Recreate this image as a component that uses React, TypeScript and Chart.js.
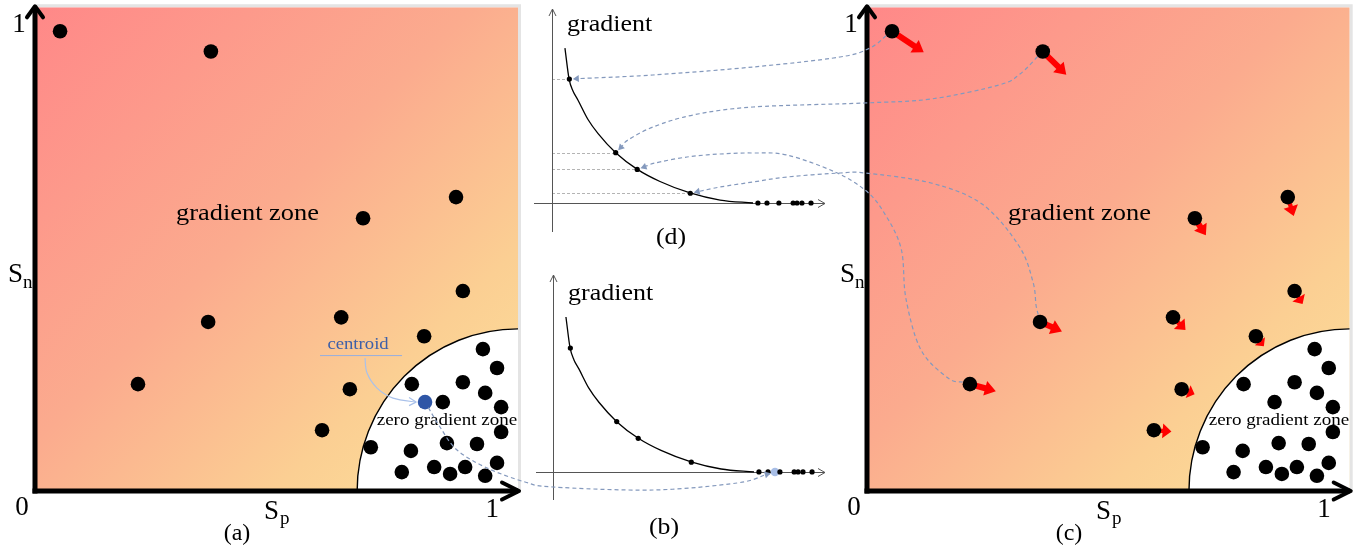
import React, { useEffect, useRef } from "react";
import { Chart, registerables } from "chart.js";
Chart.register(...registerables);

// ---------- panels (a) and (c): similarity space ----------
const gradSp = [0.055, 0.386, 0.72, 0.924, 0.939, 0.38, 0.672, 0.854, 0.226, 0.691, 0.63];
const gradSn = [0.998, 0.954, 0.592, 0.638, 0.434, 0.367, 0.377, 0.336, 0.232, 0.221, 0.132];
const zeroSp = [0.983, 1.014, 0.827, 0.939, 0.988, 1.023, 0.895, 1.023, 0.737, 0.825, 0.904, 0.97, 0.805, 0.876, 0.911, 0.944, 0.988, 1.014];
const zeroSn = [0.308, 0.267, 0.232, 0.236, 0.213, 0.182, 0.193, 0.128, 0.095, 0.087, 0.104, 0.102, 0.041, 0.052, 0.037, 0.052, 0.033, 0.061];
const centroidSp = [0.856];
const centroidSn = [0.193];
// gradient step (arrows in panel c), same order as gradSp/gradSn
const moveSp = [0.0696, 0.0516, 0.0241, 0.0131, 0.0175, 0.0481, 0.0274, 0.0175, 0.0569, 0.0284, 0.0385];
const moveSn = [-0.0456, -0.0503, -0.0369, -0.0412, -0.0282, -0.0206, -0.0275, -0.0217, -0.0152, -0.0108, -0.003];
const zoneCenter = [1.06, 0];
const zoneRadius = [0.353, 0.352];
const tickZero = "0";
const tickOne = "1";

// ---------- panels (d) and (b): gradient curve ----------
const curveX = [0.05, 0.066, 0.081, 0.1, 0.139, 0.178, 0.247, 0.328, 0.417, 0.533, 0.649, 0.776];
const curveY = [1.0, 0.8, 0.723, 0.665, 0.539, 0.448, 0.323, 0.219, 0.139, 0.065, 0.019, 0.0];
const markX = [0.067, 0.246, 0.329, 0.534];
const markY = [0.8, 0.325, 0.217, 0.063];
const restX = [0.795, 0.83, 0.876, 0.931, 0.946, 0.965, 1.0];
const centroidGradX = [0.857];

// connectors: (c) gradient point index -> (d) mark index, plus decorative path waypoints (page px)
const linkFrom = [0, 1, 8, 5];
const linkTo = [0, 1, 2, 3];
const linkVia: number[][][] = [
  [[870, 48], [840, 57], [753, 67], [653, 75]],
  [[1020, 74], [999, 85], [931, 99], [864, 103], [753, 107], [693, 115], [653, 127], [628, 140]],
  [[948, 378], [921, 350], [906, 299], [901, 248], [883, 211], [865, 190], [835, 172], [787, 155], [753, 153], [720, 154], [687, 157], [655, 163]],
  [[1036, 305], [1033, 282], [1019, 246], [982, 204], [931, 183], [865, 173], [840, 173], [787, 177], [753, 182], [720, 187]],
];
const centroidVia: number[][] = [[440, 427], [457, 450], [487, 468], [525, 482], [553, 487], [653, 490], [737, 483]];

const FONT = '"Liberation Serif", "Times New Roman", Times, serif';
const LINK = "#8499bd";

function txt(ctx: any, s: string, x: number, y: number, size: number, align = "left", base = "alphabetic", sx = 1, color = "#000") {
  ctx.save();
  ctx.font = `${size}px ${FONT}`;
  ctx.fillStyle = color;
  ctx.textAlign = align;
  ctx.textBaseline = base;
  ctx.translate(x, y);
  ctx.scale(sx, 1);
  ctx.fillText(s, 0, 0);
  ctx.restore();
}

function spline(ctx: any, pts: number[][]) {
  ctx.moveTo(pts[0][0], pts[0][1]);
  for (let i = 0; i < pts.length - 1; i++) {
    const p0 = pts[i - 1] || pts[i];
    const p1 = pts[i];
    const p2 = pts[i + 1];
    const p3 = pts[i + 2] || p2;
    ctx.bezierCurveTo(
      p1[0] + (p2[0] - p0[0]) / 6, p1[1] + (p2[1] - p0[1]) / 6,
      p2[0] - (p3[0] - p1[0]) / 6, p2[1] - (p3[1] - p1[1]) / 6,
      p2[0], p2[1]
    );
  }
}

function redArrow(ctx: any, x0: number, y0: number, x1: number, y1: number) {
  const dx = x1 - x0, dy = y1 - y0;
  const len = Math.hypot(dx, dy);
  const ux = dx / len, uy = dy / len, nx = -uy, ny = ux;
  const head = Math.min(11, len * 0.5);
  const hw = Math.min(7.5, len * 0.35 + 2);
  const sw = len > 20 ? 3 : 2.2;
  const bx = x1 - ux * head, by = y1 - uy * head;
  ctx.beginPath();
  ctx.moveTo(x0 + nx * sw, y0 + ny * sw);
  ctx.lineTo(bx + nx * sw, by + ny * sw);
  ctx.lineTo(bx + nx * hw, by + ny * hw);
  ctx.lineTo(x1, y1);
  ctx.lineTo(bx - nx * hw, by - ny * hw);
  ctx.lineTo(bx - nx * sw, by - ny * sw);
  ctx.lineTo(x0 - nx * sw, y0 - ny * sw);
  ctx.closePath();
  ctx.fillStyle = "#ff0000";
  ctx.fill();
}

function zonePlugin(cfg: { label: string; centroid: boolean; arrows: boolean }) {
  return {
    id: "zonePanel",
    beforeDatasetsDraw(chart: any) {
      const { ctx, chartArea: ca } = chart;
      const xs = chart.scales.x, ys = chart.scales.y;
      ctx.save();
      const g = ctx.createLinearGradient(ca.left, ca.top, ca.right, ca.bottom);
      g.addColorStop(0, "#ff8888");
      g.addColorStop(0.45, "#fbab8e");
      g.addColorStop(0.75, "#fbcf93");
      g.addColorStop(1, "#fde29c");
      ctx.fillStyle = g;
      ctx.fillRect(ca.left, ca.top, ca.right - ca.left, ca.bottom - ca.top);
      const cx = xs.getPixelForValue(zoneCenter[0]);
      const cy = ys.getPixelForValue(zoneCenter[1]);
      const rx = cx - xs.getPixelForValue(zoneCenter[0] - zoneRadius[0]);
      const ry = cy - ys.getPixelForValue(zoneCenter[1] + zoneRadius[1]);
      ctx.beginPath();
      ctx.moveTo(cx, cy);
      ctx.ellipse(cx, cy, rx, ry, 0, Math.PI, 1.5 * Math.PI);
      ctx.closePath();
      ctx.fillStyle = "#ffffff";
      ctx.fill();
      ctx.beginPath();
      ctx.ellipse(cx, cy, rx, ry, 0, Math.PI, 1.5 * Math.PI);
      ctx.strokeStyle = "#000";
      ctx.lineWidth = 1.4;
      ctx.stroke();
      ctx.strokeStyle = "#e4e4e4";
      ctx.lineWidth = 3;
      ctx.beginPath();
      ctx.moveTo(ca.left, ca.top - 1.5);
      ctx.lineTo(ca.right + 1.5, ca.top - 1.5);
      ctx.lineTo(ca.right + 1.5, ca.bottom);
      ctx.stroke();
      if (cfg.arrows) {
        for (let i = 0; i < gradSp.length; i++) {
          const x0 = xs.getPixelForValue(gradSp[i]);
          const y0 = ys.getPixelForValue(gradSn[i]);
          const x1 = xs.getPixelForValue(gradSp[i] + moveSp[i]);
          const y1 = ys.getPixelForValue(gradSn[i] + moveSn[i]);
          redArrow(ctx, x0, y0, x1, y1);
        }
      }
      ctx.restore();
    },
    afterDatasetsDraw(chart: any) {
      const { ctx, chartArea: ca } = chart;
      const xs = chart.scales.x, ys = chart.scales.y;
      ctx.save();
      // axes
      ctx.strokeStyle = "#000";
      ctx.lineWidth = 5;
      ctx.lineCap = "butt";
      ctx.beginPath();
      ctx.moveTo(ca.left, ca.bottom + 2.5);
      ctx.lineTo(ca.left, ca.top);
      ctx.stroke();
      ctx.beginPath();
      ctx.moveTo(ca.left - 2.5, ca.bottom);
      ctx.lineTo(ca.right, ca.bottom);
      ctx.stroke();
      ctx.lineWidth = 4;
      ctx.lineJoin = "round";
      ctx.lineCap = "round";
      ctx.beginPath();
      ctx.moveTo(ca.left - 8, ca.top + 10);
      ctx.lineTo(ca.left, ca.top - 1);
      ctx.lineTo(ca.left + 8, ca.top + 10);
      ctx.stroke();
      ctx.beginPath();
      ctx.moveTo(ca.right - 16, ca.bottom - 8.5);
      ctx.lineTo(ca.right + 1, ca.bottom);
      ctx.lineTo(ca.right - 16, ca.bottom + 8.5);
      ctx.stroke();
      // tick labels and titles
      txt(ctx, tickOne, ca.left - 16, ys.getPixelForValue(1) - 5, 27, "center", "middle");
      txt(ctx, tickZero, ca.left - 13, ca.bottom + 17, 27, "center", "middle");
      txt(ctx, tickOne, xs.getPixelForValue(1) + 1.5, ca.bottom + 19, 27, "center", "middle");
      txt(ctx, "S", ca.left + 229, ca.bottom + 28, 27);
      txt(ctx, "p", ca.left + 245, ca.bottom + 33, 19);
      txt(ctx, "S", ca.left - 27, 282, 27);
      txt(ctx, "n", ca.left - 12, 288, 19);
      txt(ctx, cfg.label, ca.left + 202, ca.bottom + 49, 24, "center");
      txt(ctx, "gradient zone", ca.left + 141, 220, 24, "left", "alphabetic", 1.1);
      txt(ctx, "zero gradient zone", ca.left + 412, 425, 17, "center", "alphabetic", 1.12);
      if (cfg.centroid) {
        const px = xs.getPixelForValue(centroidSp[0]);
        const py = ys.getPixelForValue(centroidSn[0]);
        txt(ctx, "centroid", px - 67, py - 53, 17, "center", "alphabetic", 1.1, "#3d5fa8");
        ctx.lineCap = "butt";
        ctx.strokeStyle = "#95aee0";
        ctx.lineWidth = 1;
        ctx.beginPath();
        ctx.moveTo(px - 105, py - 46.5);
        ctx.lineTo(px - 23, py - 46.5);
        ctx.stroke();
        ctx.strokeStyle = "#a9c1ea";
        ctx.lineWidth = 1.2;
        ctx.beginPath();
        spline(ctx, [[px - 60, py - 44], [px - 58, py - 29], [px - 48, py - 14], [px - 32, py - 4], [px - 9, py]]);
        ctx.stroke();
        ctx.beginPath();
        ctx.moveTo(px - 16, py - 4.5);
        ctx.lineTo(px - 9, py);
        ctx.lineTo(px - 16, py + 3.5);
        ctx.stroke();
      }
      ctx.restore();
    },
  };
}

function gradPlugin(cfg: { label: string; guides: boolean; lx: number; ly: number }) {
  return {
    id: "gradPanel",
    beforeDatasetsDraw(chart: any) {
      const { ctx, chartArea: ca } = chart;
      const xs = chart.scales.x, ys = chart.scales.y;
      const ax = xs.getPixelForValue(0), ay = ys.getPixelForValue(0);
      ctx.save();
      if (cfg.guides) {
        ctx.strokeStyle = "#b4b4b4";
        ctx.lineWidth = 1;
        ctx.setLineDash([3, 2]);
        for (let i = 0; i < markX.length; i++) {
          const y = Math.round(ys.getPixelForValue(markY[i])) + 0.5;
          ctx.beginPath();
          ctx.moveTo(ax, y);
          ctx.lineTo(xs.getPixelForValue(markX[i]), y);
          ctx.stroke();
        }
        ctx.setLineDash([]);
      }
      ctx.strokeStyle = "#555";
      ctx.lineWidth = 1;
      const axx = Math.round(ax) + 0.5, ayy = Math.round(ay) + 0.5;
      ctx.beginPath();
      ctx.moveTo(axx, ca.bottom);
      ctx.lineTo(axx, ca.top);
      ctx.moveTo(axx - 3.5, ca.top + 7);
      ctx.lineTo(axx, ca.top);
      ctx.lineTo(axx + 3.5, ca.top + 7);
      ctx.moveTo(ca.left, ayy);
      ctx.lineTo(ca.right, ayy);
      ctx.moveTo(ca.right - 7, ayy - 4);
      ctx.lineTo(ca.right, ayy);
      ctx.lineTo(ca.right - 7, ayy + 4);
      ctx.stroke();
      ctx.restore();
    },
    afterDatasetsDraw(chart: any) {
      const { ctx } = chart;
      const xs = chart.scales.x, ys = chart.scales.y;
      const ax = xs.getPixelForValue(0), ay = ys.getPixelForValue(0);
      txt(ctx, "gradient", ax + 15, ys.getPixelForValue(1) - 17, 23, "left", "alphabetic", 1.13);
      txt(ctx, cfg.label, ax + cfg.lx, ay + cfg.ly, 23, "center", "alphabetic", 1.12);
    },
  };
}

const baseOpts = (padding: any, xr: number[], yr: number[]) => ({
  animation: false,
  responsive: false,
  devicePixelRatio: 1,
  events: [],
  layout: { padding },
  plugins: { legend: { display: false }, tooltip: { enabled: false } },
  scales: {
    x: { type: "linear", min: xr[0], max: xr[1], display: false },
    y: { type: "linear", min: yr[0], max: yr[1], display: false },
  },
});

function zoneConfig(padding: any, label: string, centroid: boolean, arrows: boolean): any {
  const dot = { pointRadius: 7.3, pointBackgroundColor: "#000", pointBorderWidth: 0, clip: false };
  const datasets: any[] = [
    { data: gradSp.map((v, i) => ({ x: v, y: gradSn[i] })), ...dot },
    { data: zeroSp.map((v, i) => ({ x: v, y: zeroSn[i] })), ...dot },
  ];
  if (centroid) {
    datasets.push({ data: centroidSp.map((v, i) => ({ x: v, y: centroidSn[i] })), ...dot, pointBackgroundColor: "#2f56a6" });
  }
  return {
    type: "scatter",
    data: { datasets },
    options: baseOpts(padding, [0, 1.06], [0, 1.05]),
    plugins: [zonePlugin({ label, centroid, arrows })],
  };
}

function gradConfig(padding: any, xr: number[], yr: number[], label: string, guides: boolean, withCentroid: boolean, lx: number, ly: number): any {
  const small = { pointRadius: 2.6, pointBackgroundColor: "#000", pointBorderWidth: 0, clip: false };
  const datasets: any[] = [
    {
      data: curveX.map((v, i) => ({ x: v, y: curveY[i] })),
      showLine: true,
      borderColor: "#000",
      borderWidth: 1.3,
      pointRadius: 0,
      cubicInterpolationMode: "monotone",
      clip: false,
    },
    { data: markX.map((v, i) => ({ x: v, y: markY[i] })), ...small },
    { data: restX.map((v) => ({ x: v, y: 0 })), ...small },
  ];
  if (withCentroid) {
    datasets.push({ data: centroidGradX.map((v) => ({ x: v, y: 0 })), pointRadius: 4.3, pointBackgroundColor: "#a8bee6", pointBorderWidth: 0, clip: false });
  }
  return {
    type: "scatter",
    data: { datasets },
    options: baseOpts(padding, xr, yr),
    plugins: [gradPlugin({ label, guides, lx, ly })],
  };
}

const OFF = { a: [0, 0], d: [527, 0], b: [527, 258], c: [830, 0] };

function drawConnectors(canvas: HTMLCanvasElement, A: any, C: any, D: any, B: any) {
  const ctx = canvas.getContext("2d") as any;
  ctx.clearRect(0, 0, canvas.width, canvas.height);
  const at = (ch: any, off: number[], xv: number, yv: number) => [off[0] + ch.scales.x.getPixelForValue(xv), off[1] + ch.scales.y.getPixelForValue(yv)];
  const edge = (p: number[], q: number[], r: number) => {
    const dx = q[0] - p[0], dy = q[1] - p[1];
    const l = Math.hypot(dx, dy);
    return [p[0] + (dx / l) * r, p[1] + (dy / l) * r];
  };
  const draw = (start: number[], via: number[][], end: number[], rs: number, re: number) => {
    const s = edge(start, via[0], rs);
    const tip = edge(end, via[via.length - 1], re);
    const last = via[via.length - 1];
    const dx = tip[0] - last[0], dy = tip[1] - last[1];
    const l = Math.hypot(dx, dy);
    const ux = dx / l, uy = dy / l;
    const base = [tip[0] - ux * 6, tip[1] - uy * 6];
    ctx.save();
    ctx.strokeStyle = LINK;
    ctx.lineWidth = 1.2;
    ctx.setLineDash([4, 3]);
    ctx.beginPath();
    spline(ctx, [s, ...via, base]);
    ctx.stroke();
    ctx.setLineDash([]);
    ctx.fillStyle = LINK;
    ctx.beginPath();
    ctx.moveTo(tip[0], tip[1]);
    ctx.lineTo(base[0] - uy * 3.5, base[1] + ux * 3.5);
    ctx.lineTo(base[0] + uy * 3.5, base[1] - ux * 3.5);
    ctx.closePath();
    ctx.fill();
    ctx.restore();
  };
  for (let k = 0; k < linkFrom.length; k++) {
    const i = linkFrom[k], j = linkTo[k];
    draw(at(C, OFF.c, gradSp[i], gradSn[i]), linkVia[k], at(D, OFF.d, markX[j], markY[j]), 7.5, 3.5);
  }
  draw(at(A, OFF.a, centroidSp[0], centroidSn[0]), centroidVia, at(B, OFF.b, centroidGradX[0], 0), 6.5, 4.5);
}

export default function App() {
  const aRef = useRef<HTMLCanvasElement>(null);
  const dRef = useRef<HTMLCanvasElement>(null);
  const bRef = useRef<HTMLCanvasElement>(null);
  const cRef = useRef<HTMLCanvasElement>(null);
  const oRef = useRef<HTMLCanvasElement>(null);

  useEffect(() => {
    const A = new Chart(aRef.current as any, zoneConfig({ left: 35, top: 7, right: 9, bottom: 61 }, "(a)", true, false));
    const C = new Chart(cRef.current as any, zoneConfig({ left: 37, top: 7, right: 7, bottom: 61 }, "(c)", false, true));
    const D = new Chart(dRef.current as any, gradConfig({ left: 7, top: 9, right: 5, bottom: 26 }, [-0.0695, 1.054], [-0.187, 1.252], "(d)", true, false, 119, 41));
    const B = new Chart(bRef.current as any, gradConfig({ left: 9, top: 17, right: 5, bottom: 52 }, [-0.0656, 1.05], [-0.181, 1.271], "(b)", false, true, 111, 62));
    if (oRef.current) drawConnectors(oRef.current, A, C, D, B);
    return () => {
      A.destroy();
      C.destroy();
      D.destroy();
      B.destroy();
    };
  }, []);

  const abs = (l: number, t: number) => ({ position: "absolute" as const, left: l, top: t });
  return (
    <div style={{ position: "fixed", left: 0, top: 0, width: 1357, height: 552, background: "#fff", overflow: "hidden" }}>
      <canvas ref={aRef} width={527} height={552} style={abs(0, 0)} />
      <canvas ref={dRef} width={303} height={258} style={abs(527, 0)} />
      <canvas ref={bRef} width={303} height={294} style={abs(527, 258)} />
      <canvas ref={cRef} width={527} height={552} style={abs(830, 0)} />
      <canvas ref={oRef} width={1357} height={552} style={{ ...abs(0, 0), pointerEvents: "none" }} />
    </div>
  );
}
